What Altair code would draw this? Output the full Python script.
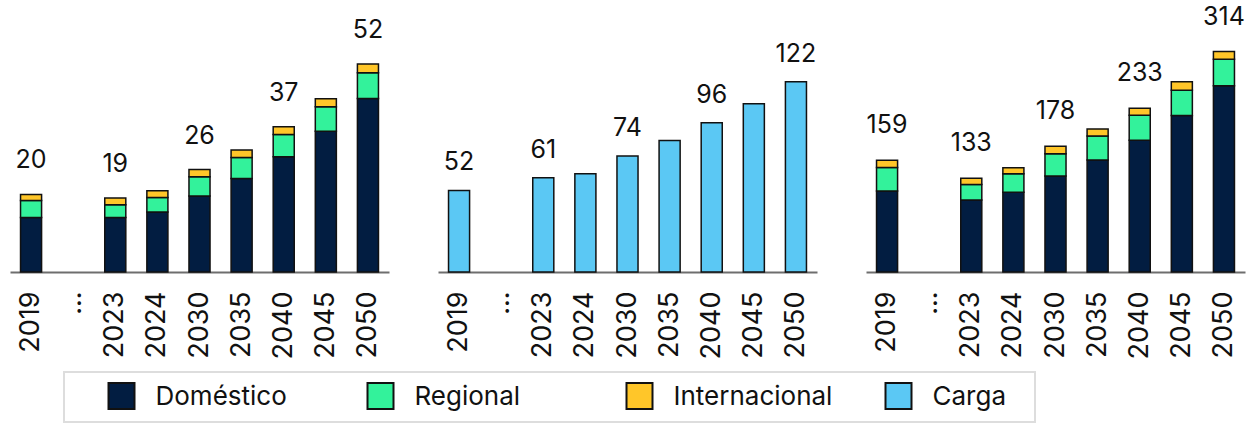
import altair as alt
import pandas as pd

# ---- data ----
years = ["2019", "...", "2023", "2024", "2030", "2035", "2040", "2045", "2050"]
bar_years = ["2019", "2023", "2024", "2030", "2035", "2040", "2045", "2050"]
series = ["Doméstico", "Regional", "Internacional", "Carga"]
colors = ["#021D41", "#33F29B", "#FFC629", "#5BC8F4"]

# panel 1
dom1 = [13.6, 13.6, 15.0, 19.0, 23.4, 28.8, 35.2, 43.4]
reg1 = [4.3, 3.2, 3.6, 4.8, 5.2, 5.6, 6.1, 6.4]
int1 = [1.5, 1.7, 1.7, 1.8, 1.9, 1.9, 2.0, 2.2]
lab1 = ["20", "19", "", "26", "", "37", "", "52"]

# panel 2
carga = [52.3, 60.4, 63.0, 74.3, 84.3, 95.7, 107.8, 122.0]
lab2 = ["52", "61", "", "74", "", "96", "", "122"]

# panel 3
dom3 = [115.4, 102.6, 113.5, 136.8, 159.6, 187.6, 222.8, 265.5]
reg3 = [33.3, 21.9, 26.6, 31.8, 34.2, 35.6, 36.1, 37.5]
int3 = [10.4, 9.0, 8.5, 10.4, 10.0, 10.0, 12.3, 11.0]
lab3 = ["159", "133", "", "178", "", "233", "", "314"]

FONT = "Inter"
color_scale = alt.Scale(domain=series, range=colors)


def stacked_df(parts):
    rows = []
    for k, (name, vals) in enumerate(parts):
        for y, v in zip(bar_years, vals):
            rows.append({"year": y, "serie": name, "value": v, "ord": k})
    return pd.DataFrame(rows)


def totals_df(parts, labels):
    tot = [sum(p[1][i] for p in parts) for i in range(len(bar_years))]
    return pd.DataFrame({"year": bar_years, "total": tot, "label": labels})


def x_enc():
    return alt.X(
        "year:N",
        scale=alt.Scale(type="band", domain=years, paddingInner=0.5, paddingOuter=0.25),
        axis=alt.Axis(
            title=None, labelAngle=-90, labelAlign="right", labelBaseline="middle",
            ticks=False, labelPadding=19, labelFontSize=27, labelFont=FONT,
            labelColor="#111111", domainColor="#6e6e6e", domainWidth=2,
            grid=False, labelOverlap=False,
        ),
    )


def panel(parts, labels, ymax, dy):
    df = stacked_df(parts)
    tdf = totals_df(parts, labels)
    ysc = alt.Scale(domain=[0, ymax], nice=False, zero=True)
    bars = alt.Chart(df).mark_bar(stroke="#111111", strokeWidth=1.5).encode(
        x=x_enc(),
        y=alt.Y("value:Q", stack="zero", scale=ysc, axis=None),
        color=alt.Color("serie:N", scale=color_scale, legend=None),
        order=alt.Order("ord:Q"),
    )
    text = alt.Chart(tdf).mark_text(
        baseline="alphabetic", dy=dy, fontSize=25, font=FONT, color="#111111"
    ).encode(
        x=x_enc(),
        y=alt.Y("total:Q", scale=ysc, axis=None),
        text="label:N",
    )
    return alt.layer(bars, text).properties(width=379, height=272)


p1 = panel([("Doméstico", dom1), ("Regional", reg1), ("Internacional", int1)], lab1, 68.0, -26)
p2 = panel([("Carga", carga)], lab2, 174.4, -20)
p3 = panel([("Doméstico", dom3), ("Regional", reg3), ("Internacional", int3)], lab3, 387.5, -27)

# ---- legend drawn as its own small chart ----
leg_df = pd.DataFrame({"serie": series})
leg_x = alt.X(
    "serie:N",
    scale=alt.Scale(type="point", domain=series, range=[111.5, 888.5], padding=0),
    axis=None,
)
box = alt.Chart(pd.DataFrame({"k": [0]})).mark_rect(
    fill="white", stroke="#dddddd", strokeWidth=2
).encode(x=alt.value(54), x2=alt.value(1025), y=alt.value(1), y2=alt.value(51))
swatch = alt.Chart(leg_df).mark_square(
    size=676, stroke="#111111", strokeWidth=2, opacity=1
).encode(
    x=leg_x, y=alt.value(25),
    color=alt.Color("serie:N", scale=color_scale, legend=None),
)
leg_text = alt.Chart(leg_df).mark_text(
    align="left", baseline="middle", dx=34, fontSize=26, font=FONT, color="#111111"
).encode(x=leg_x, y=alt.value(26), text="serie:N")
legend = alt.layer(box, swatch, leg_text).properties(width=1237, height=52)

chart = alt.vconcat(
    alt.hconcat(p1, p2, p3, spacing=49),
    legend,
    spacing=12,
).properties(
    padding={"left": 10, "top": 0, "right": 0, "bottom": 0}
).configure_view(stroke=None)

chart.save("out.html", embed_options={"renderer": "svg", "actions": False})
